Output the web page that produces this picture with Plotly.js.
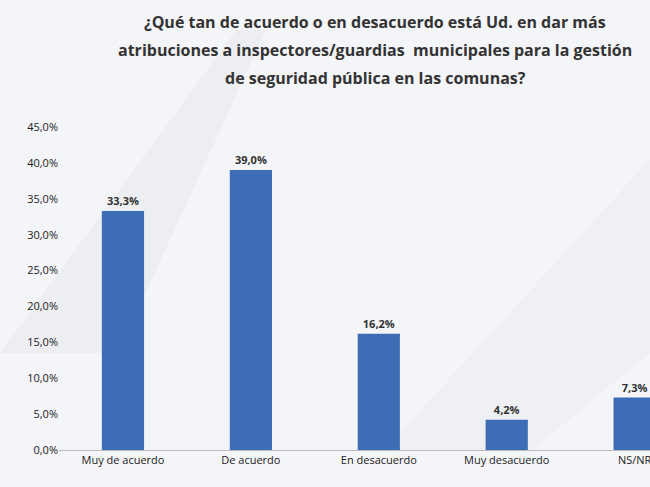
<!DOCTYPE html>
<html><head><meta charset="utf-8">
<script src="https://cdn.plot.ly/plotly-3.0.1.min.js"></script>
<style>body{margin:0;background:#fff}</style></head>
<body><div id="c" style="width:650px;height:487px"></div>
<script>
const categories = ["Muy de acuerdo","De acuerdo","En desacuerdo","Muy desacuerdo","NS/NR"];
const values = [33.3, 39.0, 16.2, 4.2, 7.3];
const labels = ["33,3%","39,0%","16,2%","4,2%","7,3%"];
const tickVals = [0,5,10,15,20,25,30,35,40,45];
const tickText = ["0,0%","5,0%","10,0%","15,0%","20,0%","25,0%","30,0%","35,0%","40,0%","45,0%"];
const titleLines = ["¿Qué tan de acuerdo o en desacuerdo está Ud. en dar más","atribuciones a inspectores/guardias  municipales para la gestión","de seguridad pública en las comunas?"];
const tf = {size:16,color:"#333",family:"Open Sans"};
Plotly.newPlot("c",[{
  type:"bar", x:categories, y:values, text:labels.map(s=>"<b>"+s+"</b>"), textposition:"outside",
  textfont:{size:11,color:"#333",family:"Open Sans"}, cliponaxis:false,
  marker:{color:"#3d6db5"}, width:0.33
}],{
  width:650,height:487,
  margin:{l:59,r:0,t:127,b:37},
  paper_bgcolor:"#f4f5f8", plot_bgcolor:"rgba(0,0,0,0)",
  annotations:titleLines.map((t,i)=>({text:"<b>"+t+"</b>",xref:"paper",yref:"paper",x:0.535,y:1+(105-i*28)/323,
    xanchor:"center",yanchor:"middle",showarrow:false,font:tf})),
  xaxis:{range:[-0.5,4.12],showline:true,linecolor:"#bbb",tickfont:{size:11,color:"#222",family:"Open Sans"},ticks:""},
  yaxis:{range:[0,45],tickvals:tickVals,ticktext:tickText,showgrid:false,zeroline:false,
    tickfont:{size:11,color:"#222",family:"Open Sans"},ticks:""},
  shapes:[
    {type:"path",xref:"paper",yref:"paper",path:"M -0.1 0.3 L 0.3 1.3 L 0.35 1.3 L 0.1 0.3 Z",fillcolor:"#eceef2",line:{width:0},layer:"below"},
    {type:"path",xref:"paper",yref:"paper",path:"M 0.55 0 L 1 0.9 L 1 0.3 L 0.8 0 Z",fillcolor:"#eef0f3",line:{width:0},layer:"below"}
  ],
  showlegend:false
},{displayModeBar:false});
</script></body></html>
